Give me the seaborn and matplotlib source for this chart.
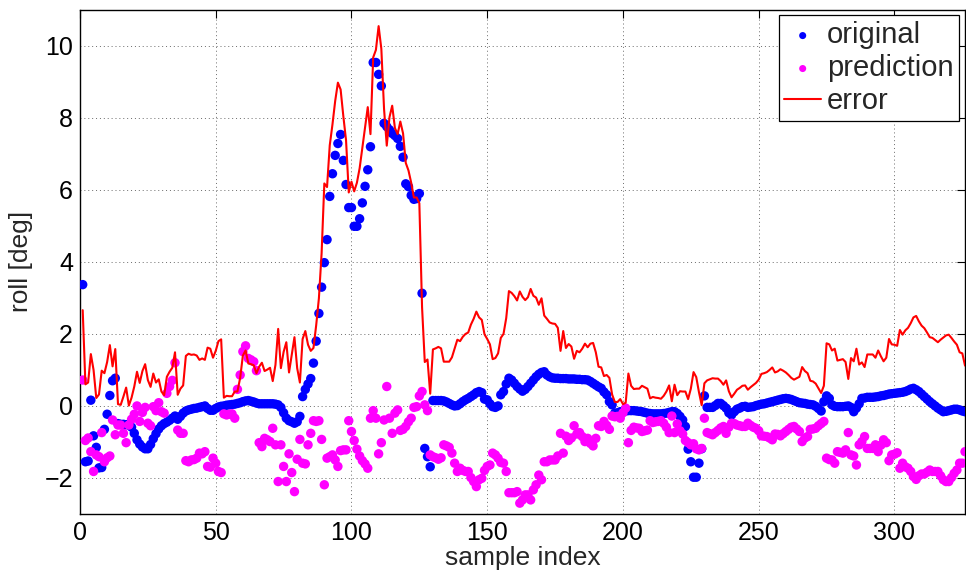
import numpy as np
import pandas as pd
import matplotlib
matplotlib.use("Agg")
import matplotlib.pyplot as plt
import seaborn as sns

sample_index = list(range(1, 327))

original = [
    3.36, -1.56, -1.54, 0.15, -0.84, -1.16, -1.73, -1.72, -0.66, -0.24,
    0.28, 0.69, 0.76, -0.50, -0.52, -0.52, -0.53, -0.54, -0.60, -0.77,
    -0.95, -1.07, -1.15, -1.20, -1.20, -1.08, -0.92, -0.78, -0.65, -0.56,
    -0.50, -0.46, -0.41, -0.35, -0.29, -0.38, -0.30, -0.21, -0.15, -0.12,
    -0.10, -0.08, -0.07, -0.05, -0.03, -0.01, -0.08, -0.13, -0.13, -0.08,
    -0.04, -0.02, -0.01, 0.01, 0.02, 0.03, 0.04, 0.06, 0.08, 0.11,
    0.13, 0.14, 0.12, 0.10, 0.07, 0.05, 0.05, 0.05, 0.05, 0.05,
    0.05, 0.04, 0.02, -0.05, -0.20, -0.35, -0.42, -0.45, -0.49, -0.45,
    -0.30, 0.25, 0.45, 0.60, 0.75, 1.18, 1.79, 2.56, 3.29, 3.97,
    4.61, 5.81, 6.44, 6.95, 7.28, 7.53, 6.81, 6.14, 5.50, 5.50,
    4.98, 4.98, 5.19, 5.63, 6.09, 6.55, 7.19, 9.53, 9.53, 9.20,
    8.88, 7.84, 7.75, 7.66, 7.56, 7.50, 7.42, 7.20, 6.90, 6.16,
    6.08, 5.84, 5.73, 5.75, 5.89, 3.12, -1.19, -1.42, -1.70, 0.14,
    0.14, 0.14, 0.14, 0.13, 0.10, 0.06, 0.02, -0.01, 0.00, 0.05,
    0.11, 0.16, 0.20, 0.25, 0.30, 0.36, 0.39, 0.36, 0.18, 0.16,
    0.05, -0.03, -0.05, -0.01, 0.30, 0.39, 0.60, 0.76, 0.71, 0.62,
    0.53, 0.46, 0.40, 0.45, 0.53, 0.62, 0.71, 0.80, 0.87, 0.92,
    0.94, 0.85, 0.80, 0.77, 0.76, 0.76, 0.75, 0.75, 0.75, 0.74,
    0.74, 0.74, 0.73, 0.73, 0.72, 0.72, 0.71, 0.67, 0.62, 0.57,
    0.52, 0.48, 0.38, 0.30, 0.11, 0.02, -0.21, -0.20, -0.17, -0.16,
    -0.15, -0.14, -0.14, -0.14, -0.15, -0.16, -0.17, -0.19, -0.21, -0.22,
    -0.23, -0.23, -0.23, -0.23, -0.22, -0.21, -0.19, -0.17, -0.17, -0.22,
    -0.30, -0.40, -0.58, -1.21, -1.56, -1.99, -1.99, -1.60, -1.20, 0.27,
    -0.05, -0.05, -0.05, 0.00, 0.06, 0.06, 0.00, -0.07, -0.20, -0.26,
    -0.17, -0.10, -0.07, -0.03, -0.02, -0.05, -0.04, -0.03, 0.00, 0.02,
    0.04, 0.05, 0.07, 0.09, 0.11, 0.13, 0.15, 0.17, 0.19, 0.20,
    0.19, 0.17, 0.14, 0.11, 0.08, 0.07, 0.06, 0.04, 0.03, 0.02,
    -0.02, -0.08, -0.15, 0.11, 0.27, 0.20, 0.02, -0.02, -0.03, -0.03,
    -0.03, -0.02, -0.01, -0.05, -0.17, -0.07, 0.05, 0.20, 0.21, 0.23,
    0.23, 0.23, 0.24, 0.25, 0.27, 0.28, 0.30, 0.32, 0.33, 0.34,
    0.35, 0.36, 0.37, 0.39, 0.42, 0.46, 0.48, 0.44, 0.39, 0.32,
    0.25, 0.18, 0.11, 0.05, -0.01, -0.07, -0.12, -0.17, -0.16, -0.14,
    -0.12, -0.10, -0.10, -0.12, -0.15, -0.17,
]

prediction = [
    0.71, -0.97, -0.90, -1.28, -1.83, -1.37, -1.42, -0.75, -1.56, -1.45,
    -1.40, -0.40, -0.81, -0.54, -0.54, -0.77, -1.03, -0.54, -0.38, -0.24,
    -0.01, -0.44, -0.19, -0.05, -0.49, -0.56, -0.03, -0.14, 0.08, -0.17,
    -0.21, 0.34, 0.53, 0.70, 1.19, -0.68, -0.77, -0.77, -1.53, -1.56,
    -1.51, -1.50, -1.46, -1.32, -1.34, -1.28, -1.69, -1.71, -1.46, -1.60,
    -1.83, -1.86, -0.23, -0.26, -0.24, -0.23, -0.35, 0.45, 0.85, 1.50,
    1.66, 1.31, 1.27, 1.22, 0.97, -1.03, -1.14, -0.91, -0.95, -1.00,
    -0.63, -1.09, -2.11, -1.09, -1.69, -2.11, -1.34, -1.86, -2.39, -1.49,
    -0.94, -1.60, -1.62, -1.09, -0.77, -0.42, -0.44, -0.42, -0.94, -2.20,
    -1.46, -1.42, -1.37, -1.51, -1.69, -1.25, -1.23, -1.23, -0.42, -0.72,
    -0.97, -1.21, -1.40, -1.53, -1.62, -1.74, -0.35, -0.14, -0.35, -1.34,
    -1.03, -0.40, 0.53, -0.35, -0.77, -0.21, -0.12, -0.69, -0.66, -0.58,
    -0.45, -0.35, -0.05, -0.03, 0.27, 0.39, 0.02, -0.14, -1.37, -1.42,
    -1.45, -1.49, -1.45, -1.09, -1.12, -1.16, -1.32, -1.60, -1.83, -1.74,
    -1.80, -1.83, -1.83, -2.00, -2.11, -2.25, -2.06, -2.02, -1.80, -1.69,
    -1.65, -1.32, -1.37, -1.46, -1.58, -1.60, -1.83, -2.42, -2.42, -2.42,
    -2.39, -2.71, -2.62, -2.48, -2.48, -2.62, -2.34, -2.20, -1.93, -2.06,
    -1.56, -1.56, -1.51, -1.51, -1.51, -1.40, -0.77, -1.32, -0.85, -0.97,
    -0.90, -0.56, -0.79, -0.75, -0.86, -1.00, -0.91, -1.05, -1.12, -0.91,
    -0.56, -0.58, -0.44, -0.55, -0.66, -0.29, -0.31, -0.30, -0.35, -0.20,
    -0.07, -1.03, -0.69, -0.60, -0.62, -0.63, -0.72, -0.70, -0.68, -0.42,
    -0.47, -0.45, -0.44, -0.42, -0.49, -0.60, -0.75, -0.29, -0.75, -0.51,
    -0.70, -0.79, -0.97, -1.03, -1.09, -1.06, -1.20, -1.23, -1.19, -0.35,
    -0.75, -0.78, -0.81, -0.75, -0.69, -0.62, -0.58, -0.77, -0.60, -0.49,
    -0.50, -0.54, -0.56, -0.58, -0.58, -0.49, -0.55, -0.60, -0.63, -0.70,
    -0.84, -0.85, -0.86, -0.90, -0.95, -0.79, -0.80, -0.84, -0.78, -0.72,
    -0.66, -0.60, -0.58, -0.65, -0.72, -1.00, -0.90, -0.86, -0.66, -0.65,
    -0.63, -0.56, -0.50, -0.44, -1.46, -1.50, -1.51, -1.60, -1.28, -1.30,
    -1.32, -1.23, -0.75, -1.37, -1.40, -1.65, -1.09, -1.00, -0.86, -1.19,
    -1.19, -1.19, -1.09, -1.28, -1.10, -0.95, -1.03, -1.53, -1.37, -1.35,
    -1.31, -1.74, -1.60, -1.70, -1.74, -1.83, -1.97, -2.05, -1.95, -1.90,
    -1.90, -1.85, -1.79, -1.83, -1.83, -1.83, -1.95, -2.06, -2.11, -2.11,
    -2.00, -1.88, -1.79, -1.60, -1.60, -1.28,
]

error = [
    2.65, 0.59, 0.64, 1.43, 0.99, 0.21, 0.31, 0.97, 0.90, 1.21,
    1.68, 1.09, 1.57, 0.04, 0.02, 0.25, 0.50, 0.00, 0.22, 0.53,
    0.94, 0.63, 0.96, 1.15, 0.71, 0.52, 0.89, 0.64, 0.73, 0.39,
    0.29, 0.80, 0.94, 1.05, 1.48, 0.30, 0.47, 0.56, 1.38, 1.44,
    1.41, 1.42, 1.39, 1.27, 1.31, 1.27, 1.61, 1.58, 1.33, 1.52,
    1.79, 1.84, 0.22, 0.27, 0.26, 0.26, 0.39, 0.39, 0.77, 1.39,
    1.53, 1.17, 1.15, 1.12, 0.90, 1.08, 1.19, 0.96, 1.00, 1.05,
    0.68, 1.13, 2.13, 1.04, 1.49, 1.76, 0.92, 1.41, 1.90, 1.04,
    0.64, 1.85, 2.07, 1.69, 1.52, 1.60, 2.23, 2.98, 4.23, 6.17,
    6.07, 7.23, 7.81, 8.46, 8.97, 8.78, 8.04, 7.37, 5.92, 6.22,
    5.95, 6.19, 6.59, 7.16, 7.71, 8.29, 7.54, 9.67, 9.88, 10.54,
    9.91, 8.24, 7.22, 8.01, 8.33, 7.71, 7.54, 7.89, 7.56, 6.74,
    6.53, 6.19, 5.78, 5.78, 5.62, 2.73, 1.21, 1.28, 0.33, 1.56,
    1.59, 1.63, 1.59, 1.22, 1.22, 1.22, 1.34, 1.59, 1.83, 1.79,
    1.91, 1.99, 2.03, 2.25, 2.41, 2.61, 2.45, 2.38, 1.98, 1.85,
    1.70, 1.29, 1.32, 1.45, 1.88, 1.99, 2.43, 3.18, 3.13, 3.04,
    2.92, 3.17, 3.02, 2.93, 3.01, 3.24, 3.05, 3.00, 2.80, 2.98,
    2.50, 2.41, 2.31, 2.28, 2.27, 2.16, 1.52, 2.07, 1.60, 1.71,
    1.64, 1.30, 1.52, 1.48, 1.58, 1.72, 1.62, 1.72, 1.74, 1.48,
    1.08, 1.06, 0.82, 0.85, 0.77, 0.31, 0.10, 0.10, 0.18, 0.04,
    0.08, 0.89, 0.55, 0.46, 0.47, 0.47, 0.55, 0.51, 0.47, 0.20,
    0.24, 0.22, 0.21, 0.19, 0.27, 0.39, 0.56, 0.12, 0.58, 0.29,
    0.40, 0.39, 0.39, 0.18, 0.47, 0.93, 0.79, 0.37, 0.01, 0.62,
    0.70, 0.73, 0.76, 0.75, 0.75, 0.68, 0.58, 0.70, 0.40, 0.23,
    0.33, 0.44, 0.49, 0.55, 0.56, 0.44, 0.51, 0.57, 0.63, 0.72,
    0.88, 0.90, 0.93, 0.99, 1.06, 0.92, 0.95, 1.01, 0.97, 0.92,
    0.85, 0.77, 0.72, 0.76, 0.80, 1.07, 0.96, 0.90, 0.69, 0.67,
    0.61, 0.48, 0.35, 0.55, 1.73, 1.70, 1.53, 1.58, 1.25, 1.27,
    1.29, 1.21, 0.74, 1.32, 1.23, 1.58, 1.14, 1.20, 1.07, 1.42,
    1.42, 1.42, 1.33, 1.53, 1.37, 1.23, 1.33, 1.85, 1.70, 1.69,
    1.66, 2.10, 1.97, 2.09, 2.16, 2.29, 2.45, 2.49, 2.34, 2.22,
    2.15, 2.03, 1.90, 1.88, 1.82, 1.76, 1.83, 1.89, 1.95, 1.97,
    1.88, 1.78, 1.69, 1.48, 1.45, 1.11,
]

x_ticks = [0, 50, 100, 150, 200, 250, 300]
y_ticks = [-2, 0, 2, 4, 6, 8, 10]
series_labels = ["original", "prediction", "error"]

df = pd.DataFrame({
    "sample": sample_index,
    "original": original,
    "prediction": prediction,
    "error": error,
})

sns.set_style("white")
plt.rcParams["font.family"] = ["Liberation Sans", "DejaVu Sans"]

fig = plt.figure(figsize=(9.66, 5.80), dpi=100)
ax = fig.add_axes([0.0828, 0.1145, 0.9162, 0.8690])

sns.scatterplot(data=df, x="sample", y="original", ax=ax, color="#0000ff",
                s=46, edgecolor="none", linewidth=0, label=series_labels[0],
                zorder=3)
sns.scatterplot(data=df, x="sample", y="prediction", ax=ax, color="#ff00ff",
                s=46, edgecolor="none", linewidth=0, label=series_labels[1],
                zorder=4)
sns.lineplot(data=df, x="sample", y="error", ax=ax, color="#ff0000",
             linewidth=1.5, estimator=None, label=series_labels[2], zorder=5)

ax.set_xlim(0, 326)
ax.set_ylim(-3, 11)
ax.set_xticks(x_ticks)
ax.set_yticks(y_ticks)
ax.grid(True, linestyle=(0, (1, 3)), color="#6a6a6a", linewidth=0.7)
ax.set_axisbelow(True)
for s in ax.spines.values():
    s.set_visible(True)
    s.set_color("black")
    s.set_linewidth(1.0)
ax.tick_params(axis="both", direction="in", length=6, width=0.8,
               top=True, right=True, labelsize=18, colors="black", pad=5)
ax.set_xlabel("sample index", fontsize=19, labelpad=1)
ax.set_ylabel("roll [deg]", fontsize=19, labelpad=8)

leg = ax.legend(loc="upper right", fontsize=21, frameon=True, fancybox=False,
                framealpha=1, edgecolor="black", borderpad=0.2,
                labelspacing=0.17, handlelength=1.25, handletextpad=0.2,
                borderaxespad=0.2, markerscale=0.75)
leg.get_frame().set_linewidth(0.9)

fig.savefig("out.png", dpi=100, facecolor="white")
